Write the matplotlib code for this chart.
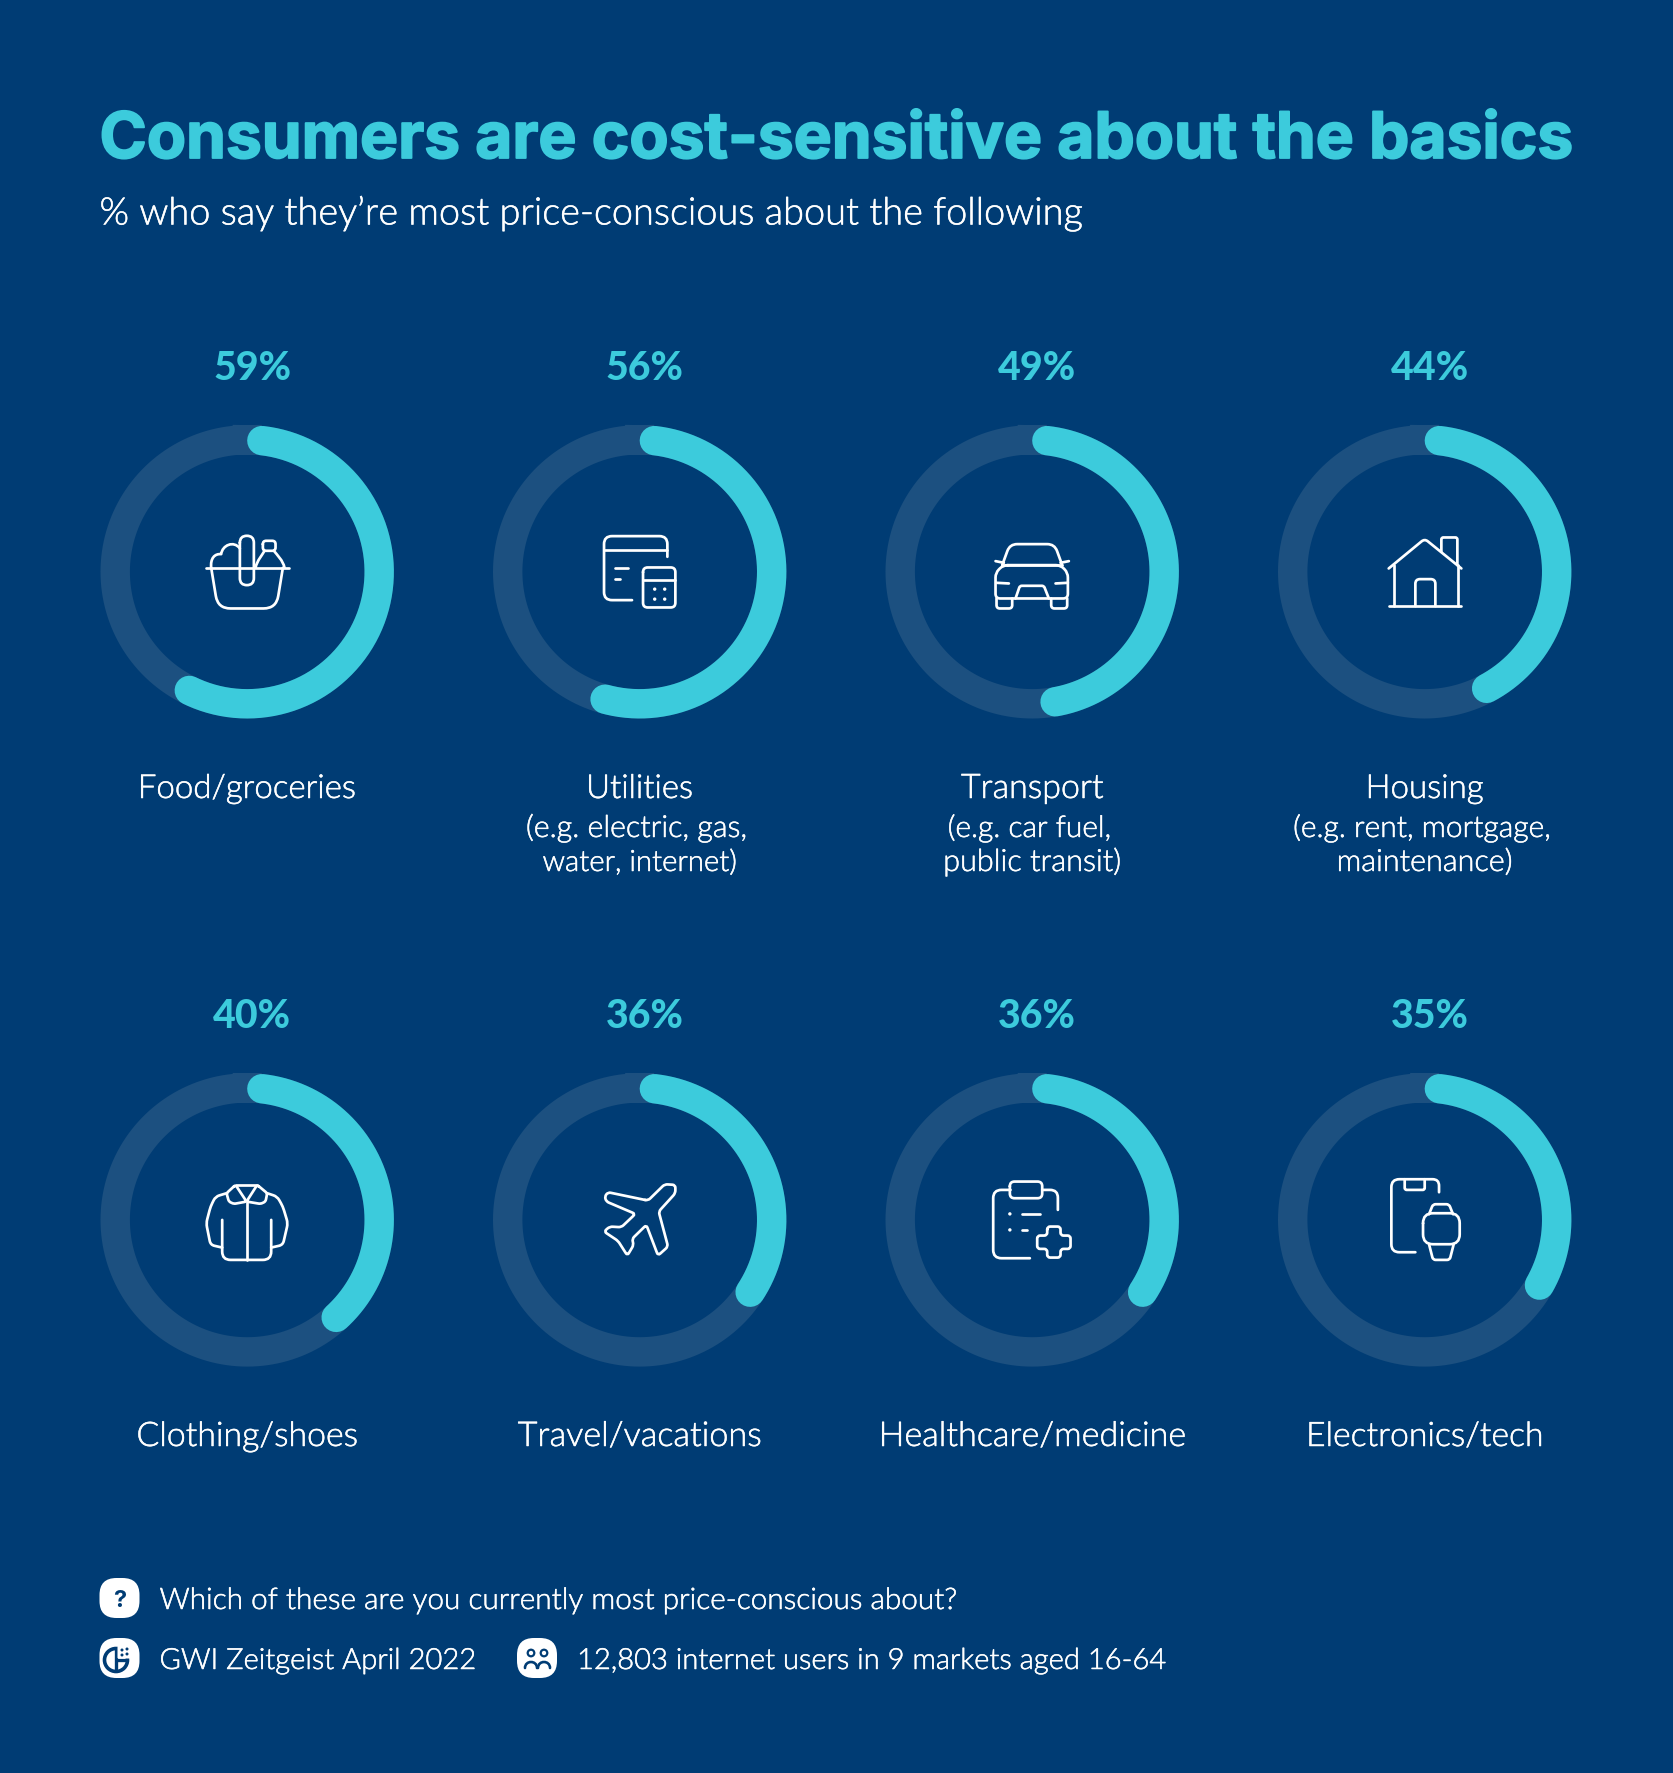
import numpy as np
import matplotlib
matplotlib.use("Agg")
import matplotlib.pyplot as plt
import matplotlib.patheffects as pe
from matplotlib.path import Path
from matplotlib.patches import PathPatch, Circle

# ---- data
categories = ["Food/groceries", "Utilities", "Transport", "Housing",
              "Clothing/shoes", "Travel/vacations", "Healthcare/medicine", "Electronics/tech"]
values = [59, 56, 49, 44, 40, 36, 36, 35]
sub_labels = [None, "(e.g. electric, gas,\nwater, internet)", "(e.g. car fuel,\npublic transit)",
              "(e.g. rent, mortgage,\nmaintenance)", None, None, None, None]
title = "Consumers are cost-sensitive about the basics"
subtitle = "% who say they\u2019re most price-conscious about the following"
question = "Which of these are you currently most price-conscious about?"
source = "GWI Zeitgeist April 2022"
sample = "12,803 internet users in 9 markets aged 16-64"

# ---- style
BG = "#003c74"
TRACK = "#1c5080"
ARC = "#3ccbdc"
WHITE = "#ffffff"
W, H = 1674, 1774
TITLE_FONT = "Inter"
BODY_FONT = "Lato"
BODY_WEIGHT = 300
col_x = [247.2, 639.7, 1032.2, 1424.7]
row_y = [572.8, 1220.9]
RING_R, RING_W, BOX_R = 132.0, 29.4, 150
cat_widths = [219, 107, 143, 118, 222, 244, 308, 238]
sub_widths = {"(e.g. electric, gas,": 222, "water, internet)": 195, "(e.g. car fuel,": 164,
              "public transit)": 178, "(e.g. rent, mortgage,": 259, "maintenance)": 176}

fig = plt.figure(figsize=(W / 100, H / 100), dpi=100, facecolor=BG)
bg = fig.add_axes([0, 0, 1, 1])
bg.set_xlim(0, W)
bg.set_ylim(H, 0)
bg.axis("off")
rend = fig.canvas.get_renderer()
firm = [pe.withStroke(linewidth=0.35, foreground=WHITE)]


def label(x, y, s, target=None, size=20, **kw):
    kw.setdefault("color", WHITE)
    kw.setdefault("family", BODY_FONT)
    kw.setdefault("weight", BODY_WEIGHT)
    kw.setdefault("path_effects", firm)
    t = bg.text(x, y, s, fontsize=size, va="baseline", **kw)
    if target:
        t.set_fontsize(size * target / t.get_window_extent(rend).width)
    return t


def rpoly(pts, r=10, closed=False):
    pts = [np.array(p, float) for p in pts]
    n = len(pts)
    verts, codes = [], []
    if closed:
        idx = range(n)
    else:
        verts.append(pts[0]); codes.append(Path.MOVETO)
        idx = range(1, n - 1)
    first = True
    for i in idx:
        p, a, b = pts[i], pts[(i - 1) % n], pts[(i + 1) % n]
        da, db = a - p, b - p
        la, lb = np.hypot(*da), np.hypot(*db)
        rr = min(r, la / 2, lb / 2)
        s, e = p + da / la * rr, p + db / lb * rr
        verts.append(s)
        codes.append(Path.MOVETO if (closed and first) else Path.LINETO)
        first = False
        verts += [p, e]
        codes += [Path.CURVE3, Path.CURVE3]
    if closed:
        verts.append(verts[0]); codes.append(Path.LINETO)
    else:
        verts.append(pts[-1]); codes.append(Path.LINETO)
    return Path(np.array(verts), codes)


def rrect(x0, y0, x1, y1, r):
    return rpoly([(x0, y0), (x1, y0), (x1, y1), (x0, y1)], r, True)


def seg(a, b):
    return Path([a, b])


def curve(*p):
    return Path(p, [Path.MOVETO] + [Path.CURVE4] * (len(p) - 1))


def draw_icon(cx, cy, items, dots=(), color=WHITE, lw=1.95, scale=1 / 3, origin=165):
    for pth in items:
        v = (pth.vertices - origin) * scale + [cx, cy]
        bg.add_patch(PathPatch(Path(v, pth.codes), fill=False, ec=color, lw=lw,
                               capstyle="round", joinstyle="round", zorder=5))
    for d in dots:
        bg.add_patch(Circle(((d[0] - origin) * scale + cx, (d[1] - origin) * scale + cy),
                            1.7, fc=color, ec="none", zorder=5))


basket = [seg((40, 153), (290, 153)),
          rpoly([(57, 153), (77, 275), (252, 275), (272, 153)], 38),
          rrect(143, 57, 185, 205, 21),
          curve((57, 153), (54, 125), (67, 110), (87, 112), (90, 85), (125, 70), (143, 95)),
          curve((190, 153), (195, 130), (210, 115), (217, 102)),
          curve((245, 102), (255, 115), (272, 130), (277, 153)),
          rrect(212, 72, 250, 102, 10)]
bills = [rpoly([(248, 120), (248, 58), (58, 58), (58, 250), (142, 250)], 24),
         seg((58, 100), (248, 100)), seg((92, 153), (130, 153)), seg((92, 188), (107, 188)),
         rrect(175, 152, 272, 272, 14), seg((175, 190), (272, 190))]
car = [rpoly([(75, 145), (98, 82), (232, 82), (255, 145)], 22),
       seg((75, 145), (255, 145)), seg((55, 133), (80, 138)), seg((250, 138), (275, 133)),
       rpoly([(78, 145), (55, 168), (55, 245), (272, 245), (272, 168), (250, 145)], 14, True),
       rpoly([(58, 245), (58, 275), (105, 275), (105, 245)], 10),
       rpoly([(222, 245), (222, 275), (270, 275), (270, 245)], 10),
       seg((58, 198), (95, 200)), seg((235, 200), (272, 198)),
       rpoly([(115, 245), (128, 207), (200, 207), (215, 245)], 6)]
house = [rpoly([(57, 155), (165, 66), (275, 155)], 12), seg((72, 145), (72, 268)),
         seg((265, 145), (265, 268)), seg((57, 268), (275, 268)),
         rpoly([(215, 105), (215, 62), (263, 62), (263, 145)], 6),
         rpoly([(137, 268), (137, 187), (197, 187), (197, 268)], 14)]
shirt = [seg((130, 60), (195, 60)),
         rpoly([(130, 60), (163, 110), (125, 117), (110, 110), (103, 85)], 6, True),
         rpoly([(195, 60), (163, 110), (205, 117), (220, 110), (225, 85)], 6, True),
         seg((163, 110), (163, 285)),
         rpoly([(103, 85), (70, 95), (55, 125), (42, 175), (55, 240), (90, 248)], 12),
         rpoly([(225, 85), (255, 95), (272, 125), (287, 175), (272, 240), (237, 248)], 12),
         rpoly([(90, 165), (90, 285), (237, 285), (237, 165)], 25)]
plane = [rpoly([(190, 107), (240, 58), (272, 60), (272, 85), (222, 140), (250, 245), (220, 272),
                (185, 180), (142, 222), (147, 240), (128, 272), (100, 228), (58, 200),
                (75, 185), (110, 187), (152, 147), (65, 110), (60, 95), (70, 82)], 9, True)]
clip = [rpoly([(100, 75), (48, 75), (48, 280), (158, 280)], 25),
        rpoly([(195, 75), (242, 75), (242, 135)], 25), rrect(98, 50, 195, 100, 14),
        seg((135, 147), (188, 147)), seg((135, 195), (148, 195)),
        rpoly([(210, 185), (250, 185), (250, 212), (280, 212), (280, 252), (250, 252), (250, 278),
               (210, 278), (210, 252), (180, 252), (180, 212), (210, 212)], 9, True)]
watch = [rpoly([(208, 82), (208, 43), (65, 43), (65, 262), (137, 262)], 24),
         rpoly([(105, 43), (105, 75), (165, 75), (165, 43)], 6),
         rrect(160, 145, 270, 238, 30),
         rpoly([(178, 148), (190, 118), (238, 118), (250, 148)], 8),
         rpoly([(178, 238), (190, 285), (240, 285), (252, 238)], 8)]
icons = [basket, bills, car, house, shirt, plane, clip, watch]
icon_dots = [(), ((210, 217), (240, 217), (210, 247), (240, 247)), (), (), (), (),
             ((98, 147), (98, 195)), ()]

# ---- rings
cap_deg = np.degrees(RING_W / 2 / RING_R)
lw_pt = RING_W * 72 / 100
for i, (cat, val) in enumerate(zip(categories, values)):
    cx, cy = col_x[i % 4], row_y[i // 4]
    ax = fig.add_axes([(cx - BOX_R) / W, 1 - (cy + BOX_R) / H, 2 * BOX_R / W, 2 * BOX_R / H],
                      projection="polar")
    ax.set_theta_zero_location("N")
    ax.set_theta_direction(-1)
    ax.set_rlim(0, BOX_R)
    ax.axis("off")
    ax.patch.set_alpha(0)
    ax.plot(np.linspace(0, 2 * np.pi, 361), np.full(361, RING_R), color=TRACK, lw=lw_pt, clip_on=False)
    th = np.radians(np.linspace(cap_deg, val * 3.6 - cap_deg, 300))
    ax.plot(th, np.full(300, RING_R), color=ARC, lw=lw_pt, solid_capstyle="round", clip_on=False)
    draw_icon(cx, cy, icons[i], icon_dots[i])

# ---- text
thick = [pe.withStroke(linewidth=1.3, foreground=ARC)]
label(99.5, 159, title, target=1476, color=ARC, family=TITLE_FONT, weight="bold", path_effects=thick)
label(99.5, 225.5, subtitle, target=985)
for i, (cat, val, sub) in enumerate(zip(categories, values, sub_labels)):
    cx = col_x[i % 4]
    r = i // 4
    label(cx + 5, 380 + r * 648, f"{val}%", target=78, ha="center", color=ARC,
          family=BODY_FONT, weight="black", path_effects=[])
    label(cx, 799 + r * 648, cat, target=cat_widths[i], ha="center")
    if sub:
        lines = sub.split("\n")
        label(cx - 3, 838, lines[0], target=sub_widths[lines[0]], ha="center")
        label(cx, 872, lines[1], target=sub_widths[lines[1]], ha="center")

# ---- footer
label(159.5, 1610, question, target=799)
label(159.5, 1670, source, target=317)
label(577, 1670, sample, target=590)


def squircle(cx, cy, h=20):
    bg.add_patch(PathPatch(rrect(cx - h, cy - h, cx + h, cy + h, 17), fc=WHITE, ec="none", zorder=4))


squircle(119.5, 1599)
squircle(119.5, 1659)
squircle(537, 1659)
bg.text(119.5, 1607, "?", color=BG, fontsize=17, weight="bold", ha="center", va="baseline",
        family=TITLE_FONT, zorder=6)
# GWI mark
bg.add_patch(Circle((116, 1661), 11.5, fc="none", ec=BG, lw=2.6, zorder=6))
bg.add_patch(PathPatch(Path([(116, 1649), (116, 1673)]), ec=BG, lw=2.4, zorder=6))
bg.add_patch(PathPatch(Path([(116, 1661), (128, 1661)]), ec=BG, lw=2.4, zorder=6))
bg.add_patch(PathPatch(rrect(117.5, 1647, 132, 1659.5, 1), fc=WHITE, ec="none", zorder=7))
for d in [(122, 1651), (127, 1655), (122, 1656), (127, 1650)]:
    bg.add_patch(Circle(d, 1.5, fc=BG, ec="none", zorder=8))
# people mark
for x in (531, 544):
    bg.add_patch(Circle((x, 1654), 3.3, fc="none", ec=BG, lw=1.6, zorder=6))
    bg.add_patch(PathPatch(Path([(x - 6, 1669), (x - 6, 1661), (x + 6, 1661), (x + 6, 1669)],
                                [Path.MOVETO, Path.CURVE4, Path.CURVE4, Path.CURVE4]),
                           fill=False, ec=BG, lw=1.9, capstyle="round", zorder=6))

fig.savefig("out.png", dpi=100, facecolor=BG)
